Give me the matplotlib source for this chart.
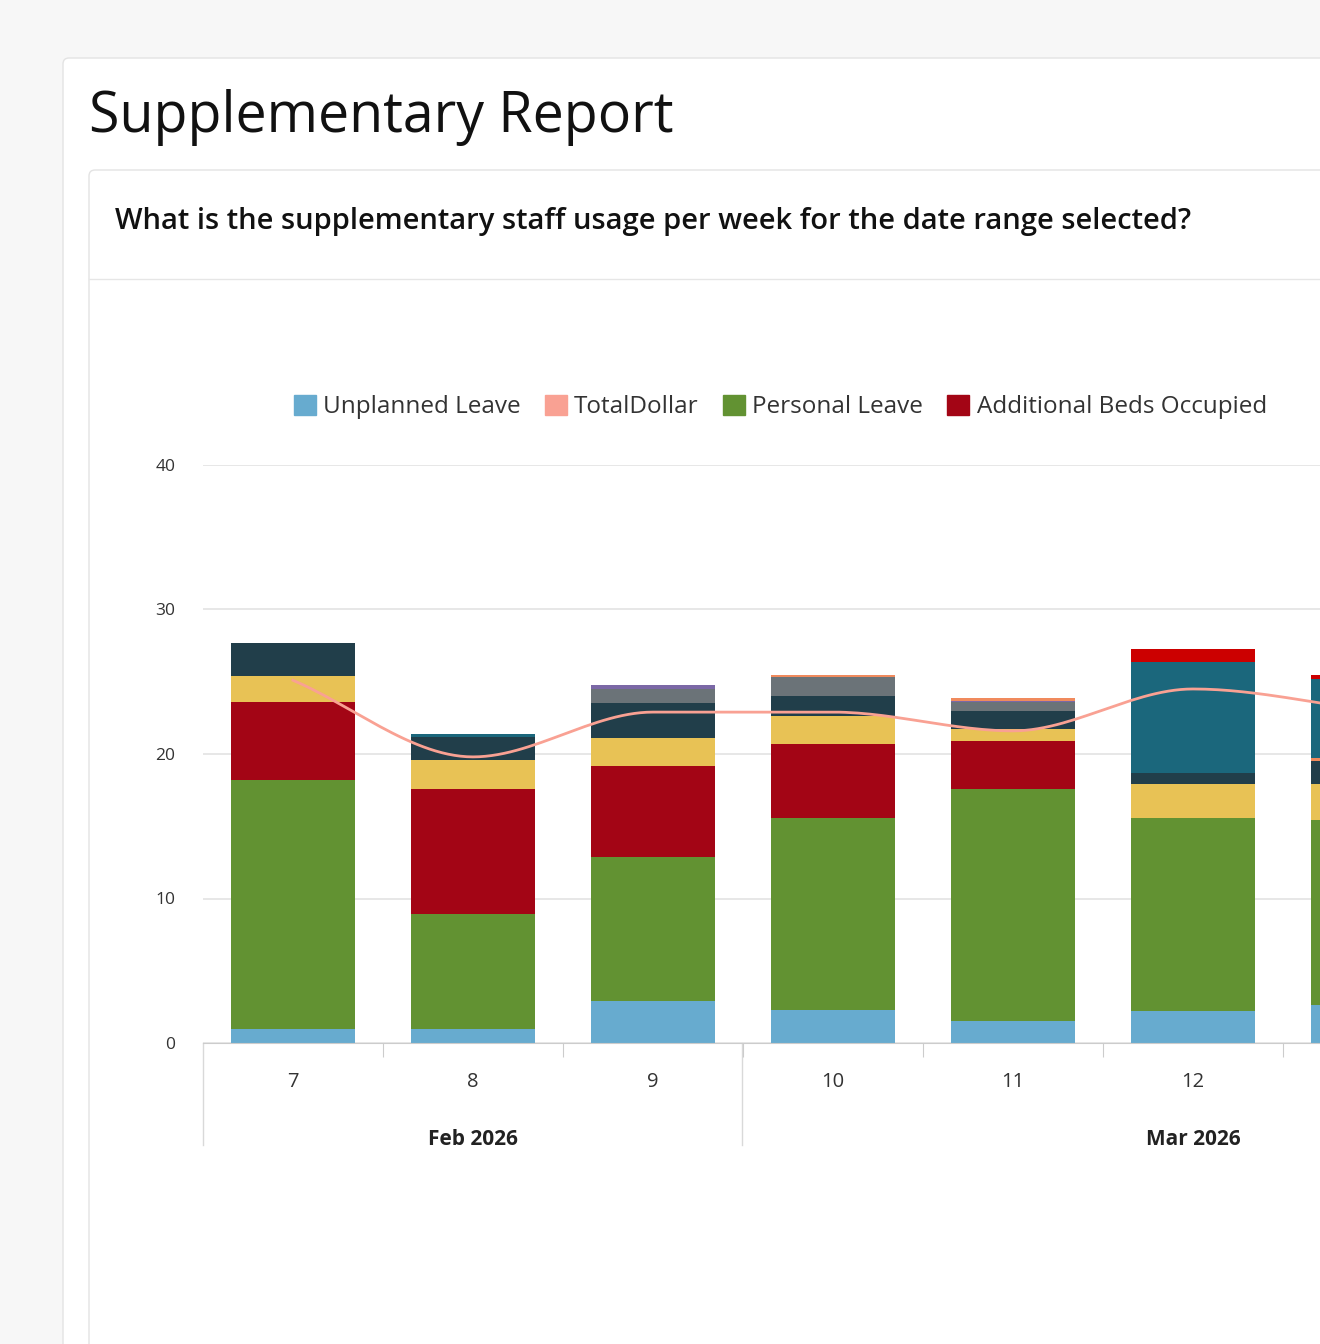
import numpy as np
import matplotlib.pyplot as plt
from matplotlib.patches import FancyBboxPatch, Rectangle

plt.rcParams['font.family'] = ['Open Sans', 'DejaVu Sans']

weeks = ['7', '8', '9', '10', '11', '12', '13']
months = ['Feb 2026', 'Mar 2026']

# stacked segment heights per week (bottom to top)
unplanned = [1.0, 1.0, 2.9, 2.3, 1.5, 2.2, 2.6]
personal = [17.2, 7.9, 10.0, 13.3, 16.1, 13.4, 12.8]
additional_beds = [5.4, 8.7, 6.3, 5.1, 3.3, 0.0, 0.0]
yellow_series = [1.8, 2.0, 1.9, 1.9, 0.8, 2.3, 2.5]
dark_series = [2.3, 1.6, 2.4, 1.4, 1.3, 0.8, 1.6]
gray_series = [0.0, 0.0, 1.0, 1.3, 0.6, 0.0, 0.0]
purple_series = [0.0, 0.0, 0.3, 0.0, 0.1, 0.0, 0.0]
orange_series = [0.0, 0.0, 0.0, 0.2, 0.2, 0.0, 0.2]
teal_series = [0.0, 0.2, 0.0, 0.0, 0.0, 7.7, 5.5]
bright_red_series = [0.0, 0.0, 0.0, 0.0, 0.0, 0.9, 0.3]
total_dollar = [25.1, 19.8, 22.9, 22.9, 21.6, 24.5, 23.0]

stack = [
    (unplanned, '#67abcf', 'Unplanned Leave'),
    (personal, '#629232', 'Personal Leave'),
    (additional_beds, '#a30515', 'Additional Beds Occupied'),
    (yellow_series, '#e8c255', None),
    (dark_series, '#213e4a', None),
    (gray_series, '#6b7378', None),
    (purple_series, '#7b68a6', None),
    (orange_series, '#f08a5d', None),
    (teal_series, '#1b677c', None),
    (bright_red_series, '#cc0000', None),
]

W, H = 1320, 1344
fig = plt.figure(figsize=(W / 100, H / 100), dpi=100)
fig.patch.set_facecolor('#f7f7f7')

# background / cards in pixel coordinates
bg = fig.add_axes([0, 0, 1, 1])
bg.set_xlim(0, W)
bg.set_ylim(H, 0)
bg.axis('off')
bg.add_patch(FancyBboxPatch((63, 58), 1400, 1400, boxstyle='round,pad=0,rounding_size=6',
                            fc='white', ec='#e3e3e3', lw=1))
bg.add_patch(FancyBboxPatch((89, 170), 1400, 1400, boxstyle='round,pad=0,rounding_size=6',
                            fc='white', ec='#e3e3e3', lw=1))
bg.plot([89, W], [279, 279], color='#e6e6e6', lw=1)
bg.text(89, 117, 'Supplementary Report', fontsize=40, va='center', ha='left', color='#111',
        fontweight='medium')
bg.text(115, 222, 'What is the supplementary staff usage per week for the date range selected?',
        fontsize=21, va='center', ha='left', color='#111', fontweight='semibold', clip_on=True)

# axis decorations below the plot
bg.plot([203, 203], [1043, 1145], color='#d9d9d9', lw=1)
bg.plot([742, 742], [1043, 1145], color='#d9d9d9', lw=1)

ax = fig.add_axes([203 / W, (H - 1043) / H, 1 - 203 / W, (1043 - 465) / H])
ax.patch.set_alpha(0)
x = np.arange(len(weeks))
bottom = np.zeros(len(weeks))
for vals, color, label in stack:
    ax.bar(x, vals, 0.694, bottom=bottom, color=color, label=label, zorder=2, linewidth=0)
    bottom += np.array(vals)

# smooth line through TotalDollar points (monotone cubic)
xs = x.astype(float)
ys = np.array(total_dollar)
d = np.diff(ys)
m = np.zeros_like(ys)
for i in range(1, len(ys) - 1):
    m[i] = 0 if d[i - 1] * d[i] <= 0 else 2 / (1 / d[i - 1] + 1 / d[i])
m[0], m[-1] = d[0], d[-1]
px, py = [], []
for i in range(len(ys) - 1):
    t = np.linspace(0, 1, 30)
    h00 = 2 * t**3 - 3 * t**2 + 1
    h10 = t**3 - 2 * t**2 + t
    h01 = -2 * t**3 + 3 * t**2
    h11 = t**3 - t**2
    px.extend(xs[i] + t)
    py.extend(h00 * ys[i] + h10 * m[i] + h01 * ys[i + 1] + h11 * m[i + 1])
ax.plot(px, py, color='#f9a193', lw=2, zorder=3, label='TotalDollar')

xmax = (W - 203) / 180 - 0.5
ax.set_xlim(-0.5, xmax)
ax.set_ylim(0, 40)
ax.set_yticks([0, 10, 20, 30, 40])
ax.grid(axis='y', color='#e3e3e3', lw=1.2, zorder=0)
for s in ['top', 'right', 'left']:
    ax.spines[s].set_visible(False)
ax.spines['bottom'].set_color('#cccccc')
ax.tick_params(axis='y', length=0, labelsize=12.5, labelcolor='#333', pad=20)
ax.set_xticks(x[:-1] + 0.5)
ax.set_xticklabels([])
ax.tick_params(axis='x', length=10, color='#cccccc')
for xi, w in zip(x, weeks):
    if xi < xmax - 0.2:
        ax.text(xi, -2.7, w, ha='center', va='center', fontsize=14.5, color='#333', clip_on=False)
ax.text(1, -6.7, months[0], ha='center', va='center', fontsize=15, fontweight='bold', color='#222')
ax.text(5, -6.7, months[1], ha='center', va='center', fontsize=15, fontweight='bold', color='#222')

order = ['Unplanned Leave', 'TotalDollar', 'Personal Leave', 'Additional Beds Occupied']
colors = {'Unplanned Leave': '#67abcf', 'TotalDollar': '#f9a193',
          'Personal Leave': '#629232', 'Additional Beds Occupied': '#a30515'}
leg_h = [Rectangle((0, 0), 1, 1, color=colors[o]) for o in order]
fig.legend(leg_h, order, loc='center left', bbox_to_anchor=(272 / W, 1 - 407 / H), ncol=4,
           frameon=False, fontsize=17.5, handlelength=0.9, handleheight=0.9,
           handletextpad=0.3, columnspacing=1.0, labelcolor='#333')

fig.savefig('out.png', dpi=100, facecolor=fig.get_facecolor())
